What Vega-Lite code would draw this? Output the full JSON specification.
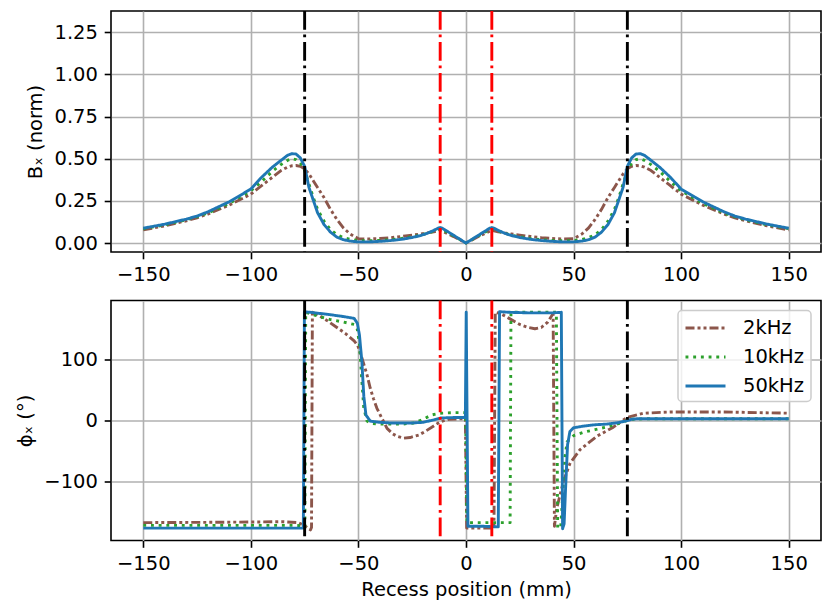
{
  "$schema": "https://vega.github.io/schema/vega-lite/v6.json",
  "background": "white",
  "padding": {"left": 15, "top": 8, "right": 6, "bottom": 5},
  "datasets": {
    "bx": [
      {"x":-150,"f":"2kHz","v":0.078},{"x":-140,"f":"2kHz","v":0.102},{"x":-130,"f":"2kHz","v":0.132},{"x":-125,"f":"2kHz","v":0.15},{"x":-120,"f":"2kHz","v":0.172},{"x":-110,"f":"2kHz","v":0.225},{"x":-100,"f":"2kHz","v":0.29},{"x":-95,"f":"2kHz","v":0.34},{"x":-90,"f":"2kHz","v":0.39},{"x":-86,"f":"2kHz","v":0.43},{"x":-83,"f":"2kHz","v":0.45},{"x":-81,"f":"2kHz","v":0.458},{"x":-79,"f":"2kHz","v":0.46},{"x":-77,"f":"2kHz","v":0.455},{"x":-75,"f":"2kHz","v":0.44},{"x":-73,"f":"2kHz","v":0.41},{"x":-71,"f":"2kHz","v":0.37},{"x":-69,"f":"2kHz","v":0.33},{"x":-66,"f":"2kHz","v":0.27},{"x":-63,"f":"2kHz","v":0.2},{"x":-60,"f":"2kHz","v":0.14},{"x":-57,"f":"2kHz","v":0.09},{"x":-54,"f":"2kHz","v":0.055},{"x":-50,"f":"2kHz","v":0.026},{"x":-45,"f":"2kHz","v":0.024},{"x":-40,"f":"2kHz","v":0.027},{"x":-35,"f":"2kHz","v":0.032},{"x":-30,"f":"2kHz","v":0.039},{"x":-25,"f":"2kHz","v":0.047},{"x":-21,"f":"2kHz","v":0.054},{"x":-18,"f":"2kHz","v":0.06},{"x":-15,"f":"2kHz","v":0.067},{"x":-13,"f":"2kHz","v":0.073},{"x":-12,"f":"2kHz","v":0.075},{"x":-11,"f":"2kHz","v":0.071},{"x":-9,"f":"2kHz","v":0.058},{"x":-6,"f":"2kHz","v":0.04},{"x":-3,"f":"2kHz","v":0.02},{"x":0,"f":"2kHz","v":0},{"x":3,"f":"2kHz","v":0.02},{"x":6,"f":"2kHz","v":0.04},{"x":9,"f":"2kHz","v":0.058},{"x":11,"f":"2kHz","v":0.071},{"x":12,"f":"2kHz","v":0.075},{"x":13,"f":"2kHz","v":0.073},{"x":15,"f":"2kHz","v":0.067},{"x":18,"f":"2kHz","v":0.06},{"x":21,"f":"2kHz","v":0.054},{"x":25,"f":"2kHz","v":0.047},{"x":30,"f":"2kHz","v":0.039},{"x":35,"f":"2kHz","v":0.032},{"x":40,"f":"2kHz","v":0.027},{"x":45,"f":"2kHz","v":0.024},{"x":50,"f":"2kHz","v":0.026},{"x":54,"f":"2kHz","v":0.055},{"x":57,"f":"2kHz","v":0.09},{"x":60,"f":"2kHz","v":0.14},{"x":63,"f":"2kHz","v":0.2},{"x":66,"f":"2kHz","v":0.27},{"x":69,"f":"2kHz","v":0.33},{"x":71,"f":"2kHz","v":0.37},{"x":73,"f":"2kHz","v":0.41},{"x":75,"f":"2kHz","v":0.44},{"x":77,"f":"2kHz","v":0.455},{"x":79,"f":"2kHz","v":0.46},{"x":81,"f":"2kHz","v":0.458},{"x":83,"f":"2kHz","v":0.45},{"x":86,"f":"2kHz","v":0.43},{"x":90,"f":"2kHz","v":0.39},{"x":95,"f":"2kHz","v":0.34},{"x":100,"f":"2kHz","v":0.29},{"x":110,"f":"2kHz","v":0.225},{"x":120,"f":"2kHz","v":0.172},{"x":125,"f":"2kHz","v":0.15},{"x":130,"f":"2kHz","v":0.132},{"x":140,"f":"2kHz","v":0.102},{"x":150,"f":"2kHz","v":0.078},
      {"x":-150,"f":"10kHz","v":0.085},{"x":-140,"f":"10kHz","v":0.108},{"x":-130,"f":"10kHz","v":0.138},{"x":-125,"f":"10kHz","v":0.156},{"x":-120,"f":"10kHz","v":0.178},{"x":-110,"f":"10kHz","v":0.235},{"x":-100,"f":"10kHz","v":0.31},{"x":-95,"f":"10kHz","v":0.365},{"x":-90,"f":"10kHz","v":0.425},{"x":-86,"f":"10kHz","v":0.465},{"x":-83,"f":"10kHz","v":0.49},{"x":-81,"f":"10kHz","v":0.5},{"x":-79,"f":"10kHz","v":0.495},{"x":-77,"f":"10kHz","v":0.475},{"x":-75,"f":"10kHz","v":0.43},{"x":-73,"f":"10kHz","v":0.35},{"x":-71,"f":"10kHz","v":0.27},{"x":-69,"f":"10kHz","v":0.2},{"x":-66,"f":"10kHz","v":0.13},{"x":-63,"f":"10kHz","v":0.08},{"x":-60,"f":"10kHz","v":0.05},{"x":-57,"f":"10kHz","v":0.032},{"x":-54,"f":"10kHz","v":0.022},{"x":-50,"f":"10kHz","v":0.015},{"x":-45,"f":"10kHz","v":0.014},{"x":-40,"f":"10kHz","v":0.016},{"x":-35,"f":"10kHz","v":0.02},{"x":-30,"f":"10kHz","v":0.027},{"x":-25,"f":"10kHz","v":0.037},{"x":-21,"f":"10kHz","v":0.047},{"x":-18,"f":"10kHz","v":0.058},{"x":-15,"f":"10kHz","v":0.071},{"x":-13,"f":"10kHz","v":0.082},{"x":-12,"f":"10kHz","v":0.085},{"x":-11,"f":"10kHz","v":0.081},{"x":-9,"f":"10kHz","v":0.066},{"x":-6,"f":"10kHz","v":0.044},{"x":-3,"f":"10kHz","v":0.022},{"x":0,"f":"10kHz","v":0},{"x":3,"f":"10kHz","v":0.022},{"x":6,"f":"10kHz","v":0.044},{"x":9,"f":"10kHz","v":0.066},{"x":11,"f":"10kHz","v":0.081},{"x":12,"f":"10kHz","v":0.085},{"x":13,"f":"10kHz","v":0.082},{"x":15,"f":"10kHz","v":0.071},{"x":18,"f":"10kHz","v":0.058},{"x":21,"f":"10kHz","v":0.047},{"x":25,"f":"10kHz","v":0.037},{"x":30,"f":"10kHz","v":0.027},{"x":35,"f":"10kHz","v":0.02},{"x":40,"f":"10kHz","v":0.016},{"x":45,"f":"10kHz","v":0.014},{"x":50,"f":"10kHz","v":0.015},{"x":54,"f":"10kHz","v":0.022},{"x":57,"f":"10kHz","v":0.032},{"x":60,"f":"10kHz","v":0.05},{"x":63,"f":"10kHz","v":0.08},{"x":66,"f":"10kHz","v":0.13},{"x":69,"f":"10kHz","v":0.2},{"x":71,"f":"10kHz","v":0.27},{"x":73,"f":"10kHz","v":0.35},{"x":75,"f":"10kHz","v":0.43},{"x":77,"f":"10kHz","v":0.475},{"x":79,"f":"10kHz","v":0.495},{"x":81,"f":"10kHz","v":0.5},{"x":83,"f":"10kHz","v":0.49},{"x":86,"f":"10kHz","v":0.465},{"x":90,"f":"10kHz","v":0.425},{"x":95,"f":"10kHz","v":0.365},{"x":100,"f":"10kHz","v":0.31},{"x":110,"f":"10kHz","v":0.235},{"x":120,"f":"10kHz","v":0.178},{"x":125,"f":"10kHz","v":0.156},{"x":130,"f":"10kHz","v":0.138},{"x":140,"f":"10kHz","v":0.108},{"x":150,"f":"10kHz","v":0.085},
      {"x":-150,"f":"50kHz","v":0.088},{"x":-140,"f":"50kHz","v":0.112},{"x":-130,"f":"50kHz","v":0.142},{"x":-125,"f":"50kHz","v":0.16},{"x":-120,"f":"50kHz","v":0.185},{"x":-110,"f":"50kHz","v":0.245},{"x":-100,"f":"50kHz","v":0.32},{"x":-95,"f":"50kHz","v":0.39},{"x":-90,"f":"50kHz","v":0.45},{"x":-86,"f":"50kHz","v":0.49},{"x":-83,"f":"50kHz","v":0.52},{"x":-81,"f":"50kHz","v":0.53},{"x":-79,"f":"50kHz","v":0.528},{"x":-77,"f":"50kHz","v":0.505},{"x":-75,"f":"50kHz","v":0.455},{"x":-73,"f":"50kHz","v":0.33},{"x":-71,"f":"50kHz","v":0.255},{"x":-69,"f":"50kHz","v":0.18},{"x":-66,"f":"50kHz","v":0.11},{"x":-63,"f":"50kHz","v":0.065},{"x":-60,"f":"50kHz","v":0.035},{"x":-57,"f":"50kHz","v":0.02},{"x":-54,"f":"50kHz","v":0.012},{"x":-50,"f":"50kHz","v":0.007},{"x":-45,"f":"50kHz","v":0.007},{"x":-40,"f":"50kHz","v":0.01},{"x":-35,"f":"50kHz","v":0.015},{"x":-30,"f":"50kHz","v":0.022},{"x":-25,"f":"50kHz","v":0.033},{"x":-21,"f":"50kHz","v":0.045},{"x":-18,"f":"50kHz","v":0.058},{"x":-15,"f":"50kHz","v":0.075},{"x":-13,"f":"50kHz","v":0.088},{"x":-12,"f":"50kHz","v":0.092},{"x":-11,"f":"50kHz","v":0.088},{"x":-9,"f":"50kHz","v":0.072},{"x":-6,"f":"50kHz","v":0.048},{"x":-3,"f":"50kHz","v":0.024},{"x":0,"f":"50kHz","v":0},{"x":3,"f":"50kHz","v":0.024},{"x":6,"f":"50kHz","v":0.048},{"x":9,"f":"50kHz","v":0.072},{"x":11,"f":"50kHz","v":0.088},{"x":12,"f":"50kHz","v":0.092},{"x":13,"f":"50kHz","v":0.088},{"x":15,"f":"50kHz","v":0.075},{"x":18,"f":"50kHz","v":0.058},{"x":21,"f":"50kHz","v":0.045},{"x":25,"f":"50kHz","v":0.033},{"x":30,"f":"50kHz","v":0.022},{"x":35,"f":"50kHz","v":0.015},{"x":40,"f":"50kHz","v":0.01},{"x":45,"f":"50kHz","v":0.007},{"x":50,"f":"50kHz","v":0.007},{"x":54,"f":"50kHz","v":0.012},{"x":57,"f":"50kHz","v":0.02},{"x":60,"f":"50kHz","v":0.035},{"x":63,"f":"50kHz","v":0.065},{"x":66,"f":"50kHz","v":0.11},{"x":69,"f":"50kHz","v":0.18},{"x":71,"f":"50kHz","v":0.255},{"x":73,"f":"50kHz","v":0.33},{"x":75,"f":"50kHz","v":0.455},{"x":77,"f":"50kHz","v":0.505},{"x":79,"f":"50kHz","v":0.528},{"x":81,"f":"50kHz","v":0.53},{"x":83,"f":"50kHz","v":0.52},{"x":86,"f":"50kHz","v":0.49},{"x":90,"f":"50kHz","v":0.45},{"x":95,"f":"50kHz","v":0.39},{"x":100,"f":"50kHz","v":0.32},{"x":110,"f":"50kHz","v":0.245},{"x":120,"f":"50kHz","v":0.185},{"x":125,"f":"50kHz","v":0.16},{"x":130,"f":"50kHz","v":0.142},{"x":140,"f":"50kHz","v":0.112},{"x":150,"f":"50kHz","v":0.088}
    ],
    "phi": [
      {"x":-150,"f":"2kHz","v":-168},{"x":-120,"f":"2kHz","v":-167.5},{"x":-100,"f":"2kHz","v":-167},{"x":-85,"f":"2kHz","v":-166.5},{"x":-78,"f":"2kHz","v":-168},{"x":-75,"f":"2kHz","v":-173},{"x":-73,"f":"2kHz","v":-178},{"x":-72.3,"f":"2kHz","v":-180},{"x":-71.8,"f":"2kHz","v":-176},{"x":-71.4,"f":"2kHz","v":178},{"x":-68,"f":"2kHz","v":172},{"x":-64,"f":"2kHz","v":163},{"x":-60,"f":"2kHz","v":153},{"x":-56,"f":"2kHz","v":143},{"x":-52,"f":"2kHz","v":131},{"x":-50.4,"f":"2kHz","v":124},{"x":-49,"f":"2kHz","v":110},{"x":-47.7,"f":"2kHz","v":95},{"x":-46,"f":"2kHz","v":75},{"x":-44.5,"f":"2kHz","v":53},{"x":-43,"f":"2kHz","v":36},{"x":-41.4,"f":"2kHz","v":20},{"x":-39,"f":"2kHz","v":3},{"x":-36.7,"f":"2kHz","v":-13},{"x":-34,"f":"2kHz","v":-22},{"x":-32,"f":"2kHz","v":-26},{"x":-29,"f":"2kHz","v":-29},{"x":-26,"f":"2kHz","v":-28},{"x":-22,"f":"2kHz","v":-24},{"x":-19,"f":"2kHz","v":-18},{"x":-15,"f":"2kHz","v":-9},{"x":-12,"f":"2kHz","v":-2},{"x":-8,"f":"2kHz","v":2},{"x":-0.3,"f":"2kHz","v":3},{"x":0.3,"f":"2kHz","v":-177},{"x":10,"f":"2kHz","v":-177},{"x":13,"f":"2kHz","v":-177},{"x":13.6,"f":"2kHz","v":178},{"x":16,"f":"2kHz","v":176},{"x":20,"f":"2kHz","v":168},{"x":25,"f":"2kHz","v":158},{"x":29,"f":"2kHz","v":153},{"x":32,"f":"2kHz","v":151},{"x":35,"f":"2kHz","v":153},{"x":38,"f":"2kHz","v":162},{"x":40.5,"f":"2kHz","v":176},{"x":41.1,"f":"2kHz","v":-174},{"x":42.2,"f":"2kHz","v":-144},{"x":45.3,"f":"2kHz","v":-100},{"x":48.4,"f":"2kHz","v":-70},{"x":53,"f":"2kHz","v":-48},{"x":60.8,"f":"2kHz","v":-26},{"x":68.5,"f":"2kHz","v":-11},{"x":74.7,"f":"2kHz","v":5},{"x":82.5,"f":"2kHz","v":12},{"x":95,"f":"2kHz","v":14},{"x":120,"f":"2kHz","v":14},{"x":150,"f":"2kHz","v":12},
      {"x":-150,"f":"10kHz","v":-172.5},{"x":-100,"f":"10kHz","v":-172.5},{"x":-80,"f":"10kHz","v":-172.5},{"x":-76,"f":"10kHz","v":-173},{"x":-74.9,"f":"10kHz","v":-175},{"x":-74.5,"f":"10kHz","v":178},{"x":-70,"f":"10kHz","v":173},{"x":-63,"f":"10kHz","v":166},{"x":-57,"f":"10kHz","v":162},{"x":-52,"f":"10kHz","v":158},{"x":-50.5,"f":"10kHz","v":150},{"x":-49.5,"f":"10kHz","v":125},{"x":-48.5,"f":"10kHz","v":70},{"x":-47.5,"f":"10kHz","v":20},{"x":-46,"f":"10kHz","v":-1},{"x":-44,"f":"10kHz","v":-5},{"x":-40,"f":"10kHz","v":-6},{"x":-30,"f":"10kHz","v":-6},{"x":-24,"f":"10kHz","v":-4},{"x":-20,"f":"10kHz","v":2},{"x":-16,"f":"10kHz","v":9},{"x":-12,"f":"10kHz","v":12},{"x":-5,"f":"10kHz","v":13},{"x":-0.2,"f":"10kHz","v":13},{"x":0.4,"f":"10kHz","v":-168},{"x":10,"f":"10kHz","v":-168},{"x":20.5,"f":"10kHz","v":-168},{"x":20.9,"f":"10kHz","v":178},{"x":30,"f":"10kHz","v":178},{"x":42,"f":"10kHz","v":178},{"x":42.6,"f":"10kHz","v":-177},{"x":44,"f":"10kHz","v":-176},{"x":45,"f":"10kHz","v":-120},{"x":46,"f":"10kHz","v":-60},{"x":47,"f":"10kHz","v":-35},{"x":50,"f":"10kHz","v":-25},{"x":55,"f":"10kHz","v":-19},{"x":60,"f":"10kHz","v":-15},{"x":65,"f":"10kHz","v":-11},{"x":70,"f":"10kHz","v":-6},{"x":74,"f":"10kHz","v":-1},{"x":77,"f":"10kHz","v":2},{"x":85,"f":"10kHz","v":3},{"x":150,"f":"10kHz","v":3},
      {"x":-150,"f":"50kHz","v":-177},{"x":-100,"f":"50kHz","v":-177},{"x":-80,"f":"50kHz","v":-177},{"x":-75.6,"f":"50kHz","v":-177},{"x":-75.1,"f":"50kHz","v":179},{"x":-70,"f":"50kHz","v":177},{"x":-63,"f":"50kHz","v":174},{"x":-57,"f":"50kHz","v":171},{"x":-52,"f":"50kHz","v":168},{"x":-50.5,"f":"50kHz","v":160},{"x":-49.5,"f":"50kHz","v":140},{"x":-48.4,"f":"50kHz","v":97},{"x":-47.5,"f":"50kHz","v":40},{"x":-46.5,"f":"50kHz","v":9},{"x":-44.5,"f":"50kHz","v":-1},{"x":-40,"f":"50kHz","v":-3},{"x":-35,"f":"50kHz","v":-4},{"x":-25,"f":"50kHz","v":-4},{"x":-20,"f":"50kHz","v":-3},{"x":-15,"f":"50kHz","v":1},{"x":-12,"f":"50kHz","v":4},{"x":-5,"f":"50kHz","v":5},{"x":-0.3,"f":"50kHz","v":5},{"x":0.1,"f":"50kHz","v":178},{"x":0.9,"f":"50kHz","v":-174},{"x":8,"f":"50kHz","v":-174},{"x":15,"f":"50kHz","v":-175},{"x":15.6,"f":"50kHz","v":179},{"x":20,"f":"50kHz","v":178},{"x":30,"f":"50kHz","v":177},{"x":40,"f":"50kHz","v":177},{"x":44.3,"f":"50kHz","v":178},{"x":44.9,"f":"50kHz","v":-178},{"x":45.6,"f":"50kHz","v":-170},{"x":46.3,"f":"50kHz","v":-110},{"x":47.2,"f":"50kHz","v":-40},{"x":48.3,"f":"50kHz","v":-18},{"x":50,"f":"50kHz","v":-12},{"x":55,"f":"50kHz","v":-9},{"x":60,"f":"50kHz","v":-7},{"x":65,"f":"50kHz","v":-6},{"x":70,"f":"50kHz","v":-4},{"x":74,"f":"50kHz","v":-1},{"x":77,"f":"50kHz","v":2},{"x":80,"f":"50kHz","v":3},{"x":100,"f":"50kHz","v":3},{"x":150,"f":"50kHz","v":3}
    ],
    "edges": [{"x": -75}, {"x": 75}],
    "recess": [{"x": -12}, {"x": 12}]
  },
  "spacing": 12.5,
  "vconcat": [
    {
      "width": 710,
      "height": 241,
      "layer": [
        {
          "data": {"name": "bx"},
          "mark": {"type": "line", "strokeWidth": 2.9, "strokeJoin": "round", "clip": true},
          "encoding": {
            "x": {"field": "x", "type": "quantitative", "scale": {"domain": [-165, 165], "nice": false, "zero": false},
                  "axis": {"title": null, "values": [-150, -100, -50, 0, 50, 100, 150]}},
            "y": {"field": "v", "type": "quantitative", "scale": {"domain": [-0.053, 1.376], "nice": false, "zero": false},
                  "axis": {"title": "Bₓ (norm)", "values": [0, 0.25, 0.5, 0.75, 1, 1.25], "format": ".2f"}},
            "color": {"field": "f", "type": "nominal", "legend": null,
                      "scale": {"domain": ["2kHz", "10kHz", "50kHz"], "range": ["#8c564b", "#2ca02c", "#1f77b4"]}},
            "strokeDash": {"field": "f", "type": "nominal", "legend": null,
                           "scale": {"domain": ["2kHz", "10kHz", "50kHz"], "range": [[9, 3, 3, 3, 3, 3], [2.9, 4.8], [1, 0]]}}
          }
        },
        {
          "data": {"name": "edges"},
          "mark": {"type": "rule", "color": "black", "strokeWidth": 2.9, "strokeDash": [18.7, 4.7, 2.9, 4.7]},
          "encoding": {"x": {"field": "x", "type": "quantitative", "scale": {"domain": [-165, 165], "nice": false, "zero": false}}}
        },
        {
          "data": {"name": "recess"},
          "mark": {"type": "rule", "color": "#ff0000", "strokeWidth": 2.9, "strokeDash": [18.7, 4.7, 2.9, 4.7]},
          "encoding": {"x": {"field": "x", "type": "quantitative", "scale": {"domain": [-165, 165], "nice": false, "zero": false}}}
        }
      ]
    },
    {
      "width": 710,
      "height": 240,
      "layer": [
        {
          "data": {"name": "phi"},
          "mark": {"type": "line", "strokeWidth": 2.9, "strokeJoin": "round", "clip": true},
          "encoding": {
            "x": {"field": "x", "type": "quantitative", "scale": {"domain": [-165, 165], "nice": false, "zero": false},
                  "axis": {"title": "Recess position (mm)", "values": [-150, -100, -50, 0, 50, 100, 150]}},
            "y": {"field": "v", "type": "quantitative", "scale": {"domain": [-197.4, 197.4], "nice": false, "zero": false},
                  "axis": {"title": "ϕₓ (°)", "values": [-100, 0, 100]}},
            "color": {"field": "f", "type": "nominal", "title": null,
                      "scale": {"domain": ["2kHz", "10kHz", "50kHz"], "range": ["#8c564b", "#2ca02c", "#1f77b4"]}},
            "strokeDash": {"field": "f", "type": "nominal", "title": null,
                           "scale": {"domain": ["2kHz", "10kHz", "50kHz"], "range": [[9, 3, 3, 3, 3, 3], [2.9, 4.8], [1, 0]]}}
          }
        },
        {
          "data": {"name": "edges"},
          "mark": {"type": "rule", "color": "black", "strokeWidth": 2.9, "strokeDash": [18.7, 4.7, 2.9, 4.7]},
          "encoding": {"x": {"field": "x", "type": "quantitative", "scale": {"domain": [-165, 165], "nice": false, "zero": false}}}
        },
        {
          "data": {"name": "recess"},
          "mark": {"type": "rule", "color": "#ff0000", "strokeWidth": 2.9, "strokeDash": [18.7, 4.7, 2.9, 4.7]},
          "encoding": {"x": {"field": "x", "type": "quantitative", "scale": {"domain": [-165, 165], "nice": false, "zero": false}}}
        }
      ]
    }
  ],
  "resolve": {
    "scale": {"color": "independent", "strokeDash": "independent"},
    "legend": {"color": "independent", "strokeDash": "independent"}
  },
  "config": {
    "font": "DejaVu Sans",
    "view": {"stroke": "black", "strokeWidth": 1.6},
    "axis": {
      "domain": false, "grid": true, "gridColor": "#b0b0b0", "gridWidth": 1.6,
      "tickColor": "black", "tickWidth": 1.6, "tickSize": 6.8,
      "labelFont": "DejaVu Sans", "labelFontSize": 19.5, "labelColor": "black", "labelPadding": 6.8, "labelOverlap": false, "labelFlush": false,
      "titleFont": "DejaVu Sans", "titleFontSize": 19.5, "titleFontWeight": "normal", "titleColor": "black", "titlePadding": 8
    },
    "legend": {
      "orient": "none", "legendX": 567, "legendY": 10,
      "symbolType": "M-1,0H3", "symbolSize": 400, "symbolStrokeWidth": 2.9,
      "labelFont": "DejaVu Sans", "labelFontSize": 19.5, "labelColor": "black", "labelOffset": 36,
      "rowPadding": 8, "padding": 6,
      "fillColor": "rgba(255,255,255,0.8)", "strokeColor": "#cccccc", "cornerRadius": 4, "strokeWidth": 1.5
    }
  }
}
